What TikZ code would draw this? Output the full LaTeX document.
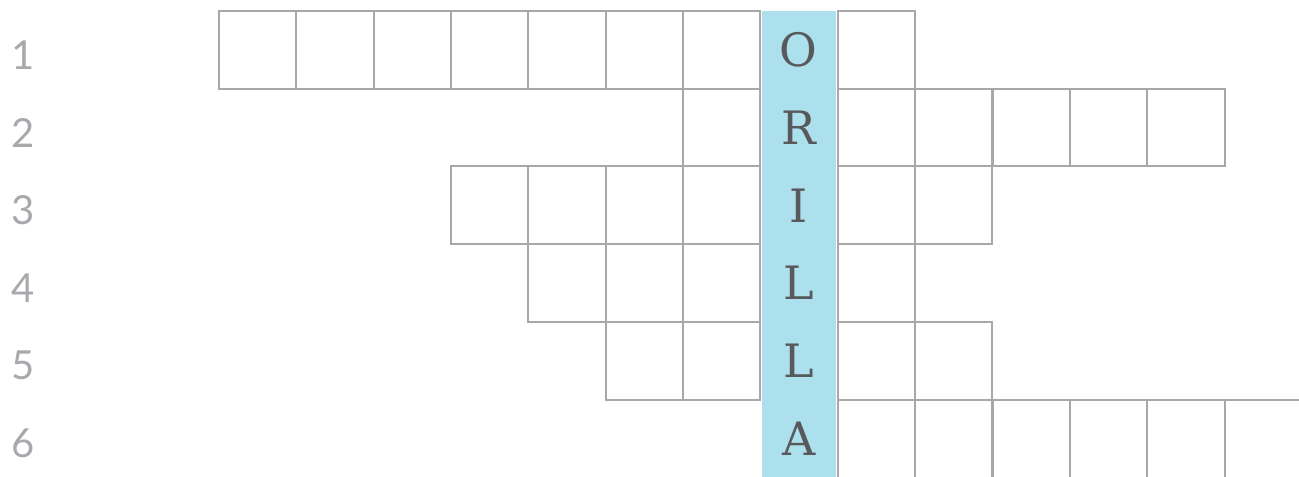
\documentclass[tikz,border=0pt]{standalone}
\usepackage{fontspec}
\newfontfamily\numfont{Lato}
\newfontfamily\letfont{DejaVu Serif}
\definecolor{gridgray}{RGB}{168,168,171}
\definecolor{numgray}{RGB}{167,169,172}
\definecolor{hiblue}{RGB}{173,224,237}
\definecolor{letgray}{RGB}{88,89,91}
\begin{document}
\begin{tikzpicture}[x=0.5pt,y=-0.5pt,
  cell/.style={draw=gridgray,line width=1pt,minimum width=38.65pt,minimum height=38.85pt,inner sep=0pt,outer sep=0pt},
  lastrow/.style={minimum height=44pt,yshift=-2.6pt},
  hicell/.style={fill=hiblue,minimum width=37pt,minimum height=38.85pt,inner sep=0pt,outer sep=0pt,font=\letfont\fontsize{23}{23}\selectfont,text=letgray},
  rownum/.style={font=\numfont\fontsize{20}{20}\selectfont,text=numgray,anchor=west,inner sep=0pt}]
\useasboundingbox (0,0) rectangle (1299,476);
\clip (0,0) rectangle (1299,476);
% rows: r, first col, last col
\foreach \r/\a/\b in {1/0/8,2/6/12,3/3/9,4/4/8,5/5/9}{
  \foreach \c in {\a,...,\b}{
    \ifnum\c=7\relax\else
      \node[cell] (c\r-\c) at ({219+77.35*\c+38.67},{11+77.7*(\r-1)+38.85}) {};
    \fi
  }
}
\foreach \c in {8,...,13}{
  \node[cell,lastrow] (c6-\c) at ({219+77.35*\c+38.67},{11+77.7*5+38.85}) {};
}
\foreach \r/\t in {1/O,2/R,3/I,4/L,5/L,6/A}{
  \node[hicell] (h\r) at ({219+77.35*7+38.2},{11+77.7*(\r-1)+38.85}) {\t};
  \node[rownum] (n\r) at (11,{11+77.7*(\r-1)+44}) {\r};
}
\end{tikzpicture}
\end{document}
